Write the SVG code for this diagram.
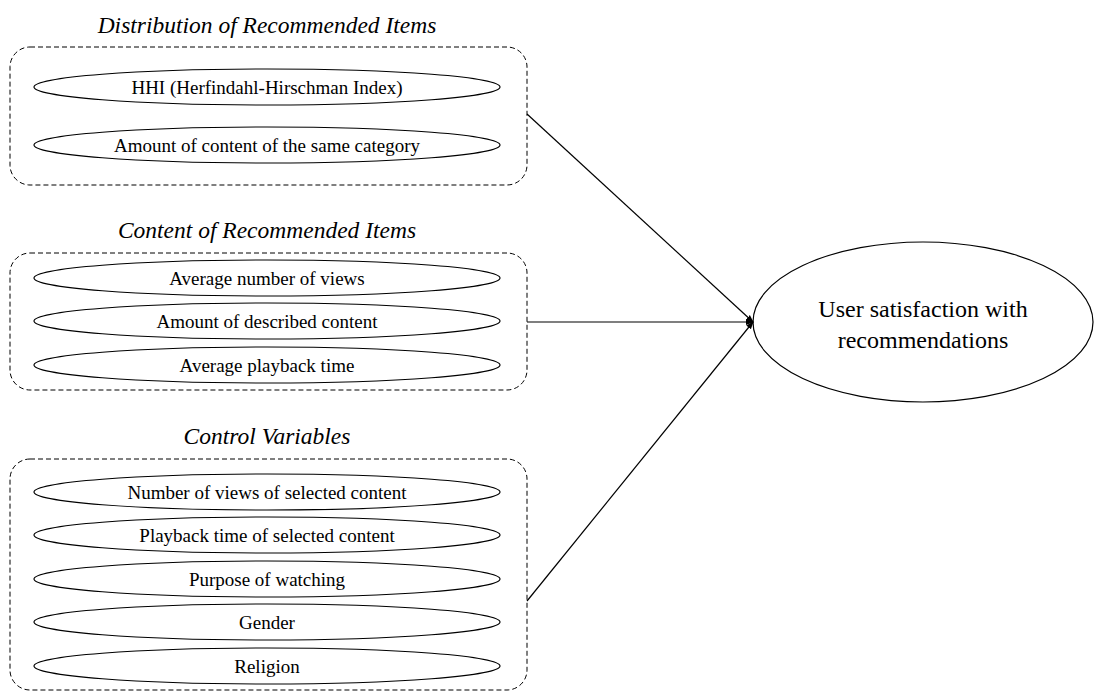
<svg xmlns="http://www.w3.org/2000/svg" width="1095" height="693" viewBox="0 0 1095 693">
<style>
.title{font-family:"Liberation Serif","Times New Roman",serif;font-style:italic;font-size:23.5px;text-anchor:middle;fill:#000}
.lbl{font-family:"Liberation Serif","Times New Roman",serif;font-size:19px;text-anchor:middle;fill:#000}
.big{font-family:"Liberation Serif","Times New Roman",serif;font-size:24px;text-anchor:middle;fill:#000}
.box{fill:none;stroke:#000;stroke-width:1;stroke-dasharray:5,3}
.ell{fill:#fff;stroke:#000;stroke-width:1.2}
.conn{stroke:#000;stroke-width:1.2;fill:none}
</style>
<defs>
<marker id="ah" markerWidth="8" markerHeight="8" refX="7" refY="4" orient="auto" markerUnits="userSpaceOnUse">
<path d="M0,1 L8,4 L0,7 z" fill="#000"/>
</marker>
</defs>
<rect width="1095" height="693" fill="#fff"/>
<g id="group-distribution">
<text class="title" x="267" y="33">Distribution of Recommended Items</text>
<rect class="box" x="10" y="47" width="517" height="138" rx="20"/>
</g>
<g id="node-hhi"><ellipse class="ell" cx="267" cy="87" rx="233" ry="18"/><text class="lbl" x="267" y="93.5">HHI (Herfindahl-Hirschman Index)</text></g>
<g id="node-samecat"><ellipse class="ell" cx="267" cy="145" rx="233" ry="18"/><text class="lbl" x="267" y="151.5">Amount of content of the same category</text></g>
<g id="group-content">
<text class="title" x="267" y="238">Content of Recommended Items</text>
<rect class="box" x="10" y="253" width="517" height="137" rx="20"/>
</g>
<g id="node-avgviews"><ellipse class="ell" cx="267" cy="278" rx="233" ry="18"/><text class="lbl" x="267" y="284.5">Average number of views</text></g>
<g id="node-described"><ellipse class="ell" cx="267" cy="321" rx="233" ry="18"/><text class="lbl" x="267" y="327.5">Amount of described content</text></g>
<g id="node-playback"><ellipse class="ell" cx="267" cy="365" rx="233" ry="18"/><text class="lbl" x="267" y="371.5">Average playback time</text></g>
<g id="group-control">
<text class="title" x="267" y="444">Control Variables</text>
<rect class="box" x="10" y="459" width="517" height="231" rx="20"/>
</g>
<g id="node-numviews"><ellipse class="ell" cx="267" cy="492" rx="233" ry="18"/><text class="lbl" x="267" y="498.5">Number of views of selected content</text></g>
<g id="node-playsel"><ellipse class="ell" cx="267" cy="535" rx="233" ry="18"/><text class="lbl" x="267" y="541.5">Playback time of selected content</text></g>
<g id="node-purpose"><ellipse class="ell" cx="267" cy="579" rx="233" ry="18"/><text class="lbl" x="267" y="585.5">Purpose of watching</text></g>
<g id="node-gender"><ellipse class="ell" cx="267" cy="622" rx="233" ry="18"/><text class="lbl" x="267" y="628.5">Gender</text></g>
<g id="node-religion"><ellipse class="ell" cx="267" cy="666" rx="233" ry="18"/><text class="lbl" x="267" y="672.5">Religion</text></g>
<g id="node-satisfaction"><ellipse class="ell" cx="923" cy="322" rx="170" ry="80"/><text class="big" x="923" y="317">User satisfaction with</text><text class="big" x="923" y="348">recommendations</text></g>
<g id="connectors">
<line class="conn" x1="527" y1="114" x2="753" y2="322" marker-end="url(#ah)"/>
<line class="conn" x1="527" y1="322" x2="753" y2="322" marker-end="url(#ah)"/>
<line class="conn" x1="527" y1="601" x2="753" y2="322" marker-end="url(#ah)"/>
</g>
</svg>
